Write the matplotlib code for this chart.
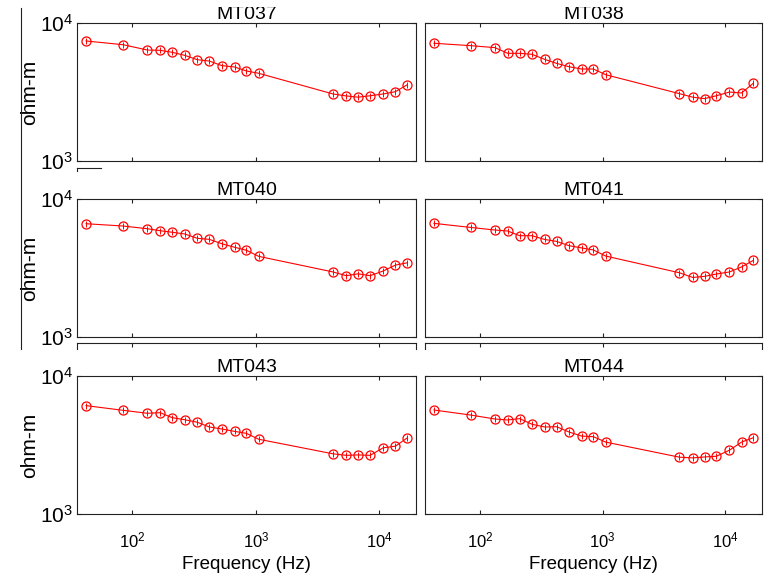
import matplotlib
matplotlib.use('Agg')
import matplotlib.pyplot as plt
from matplotlib.lines import Line2D
from matplotlib.patches import Rectangle
from matplotlib.ticker import FixedLocator, FixedFormatter, NullLocator

plt.rcParams['font.family'] = ['Liberation Sans', 'DejaVu Sans']
plt.rcParams['mathtext.fontset'] = 'custom'
plt.rcParams['mathtext.rm'] = 'Liberation Sans'
plt.rcParams['mathtext.it'] = 'Liberation Sans:italic'
plt.rcParams['mathtext.bf'] = 'Liberation Sans:bold'

# ---------------- data ----------------
freq = [42, 84, 132, 168, 210, 265, 336, 420, 530, 672, 840, 1056,
        4224, 5420, 6760, 8448, 10800, 13560, 16900]

stations = ['MT037', 'MT038', 'MT040', 'MT041', 'MT043', 'MT044']

rho_MT037 = [7410, 6960, 6370, 6340, 6130, 5830, 5420, 5300, 4910, 4800, 4490, 4320,
             3060, 2960, 2900, 2970, 3060, 3180, 3570]
rho_MT038 = [7130, 6850, 6630, 6030, 6030, 5930, 5450, 5100, 4820, 4640, 4640, 4220,
             3075, 2900, 2830, 2970, 3160, 3110, 3660]
rho_MT040 = [6620, 6370, 6090, 5890, 5740, 5580, 5190, 5100, 4740, 4470, 4250, 3840,
             2960, 2780, 2870, 2780, 3010, 3320, 3450]
rho_MT041 = [6660, 6220, 5960, 5860, 5420, 5420, 5090, 4930, 4590, 4420, 4270, 3860,
             2920, 2700, 2750, 2860, 2960, 3220, 3590]
rho_MT043 = [6100, 5640, 5370, 5420, 4990, 4820, 4620, 4270, 4130, 3970, 3840, 3480,
             2730, 2660, 2680, 2660, 3020, 3100, 3560]
rho_MT044 = [5670, 5210, 4880, 4800, 4910, 4470, 4270, 4290, 3930, 3670, 3630, 3320,
             2580, 2550, 2590, 2620, 2900, 3320, 3570]

rho_all = [rho_MT037, rho_MT038, rho_MT040, rho_MT041, rho_MT043, rho_MT044]

x_ticks = [1e2, 1e3, 1e4]
x_tick_labels = [r'$10^{2}$', r'$10^{3}$', r'$10^{4}$']
y_ticks = [1e3, 1e4]
y_tick_labels = [r'$10^{3}$', r'$10^{4}$']
x_limits = (35.5, 19900)
y_limits = (1e3, 1e4)
y_label = 'ohm-m'
x_label = 'Frequency (Hz)'

# ---------------- layout ----------------
W, H = 769, 578
fig = plt.figure(figsize=(W / 100, H / 100), dpi=100)


def px_rect(x0, y0, x1, y1):
    return [x0 / W, 1 - y1 / H, (x1 - x0) / W, (y1 - y0) / H]


col_x = [(77, 416), (425, 762)]
row_y = [(23, 161), (199, 337), (376, 514)]


def style_log_axes(ax):
    ax.set_xscale('log')
    ax.set_yscale('log')
    ax.set_xlim(*x_limits)
    ax.set_ylim(*y_limits)
    ax.xaxis.set_major_locator(FixedLocator(x_ticks))
    ax.xaxis.set_minor_locator(NullLocator())
    ax.yaxis.set_major_locator(FixedLocator(y_ticks))
    ax.yaxis.set_minor_locator(NullLocator())
    for sp in ax.spines.values():
        sp.set_linewidth(0.8)
        sp.set_color('#222222')


for i, (name, rho) in enumerate(zip(stations, rho_all)):
    r, c = divmod(i, 2)
    x0, x1 = col_x[c]
    y0, y1 = row_y[r]
    ax = fig.add_axes(px_rect(x0, y0, x1, y1))
    style_log_axes(ax)
    ax.plot(freq, rho, color='red', lw=0.8, marker='o', ms=6.5,
            mfc='none', mec='red', mew=0.9)
    ax.plot(freq, rho, ls='none', marker='|', ms=4, mec='red', mew=0.7)
    ax.tick_params(axis='both', which='major', direction='in', length=3,
                   width=0.8, top=True, right=True, color='#222222')
    ax.tick_params(axis='x', labelsize=12, pad=12)
    ax.tick_params(axis='y', labelsize=15, pad=3)
    if r == 2:
        ax.xaxis.set_major_formatter(FixedFormatter(x_tick_labels))
        ax.set_xlabel(x_label, fontsize=13.5, labelpad=4)
    else:
        ax.xaxis.set_major_formatter(FixedFormatter(['', '', '']))
    if c == 0:
        ax.yaxis.set_major_formatter(FixedFormatter(y_tick_labels))
        ax.set_ylabel(y_label, fontsize=15)
        ax.yaxis.set_label_coords((39 - x0) / (x1 - x0), 0.5)
    else:
        ax.yaxis.set_major_formatter(FixedFormatter(['', '']))
    ax.set_title(name, fontsize=14, pad=3)

# partial frames peeking out below the middle row
for (x0, x1) in col_x:
    fa = fig.add_axes(px_rect(x0, 343, x1, 349))
    fa.set_xscale('log')
    fa.set_xlim(*x_limits)
    fa.patch.set_alpha(0)
    fa.spines['bottom'].set_visible(False)
    for s in ['top', 'left', 'right']:
        fa.spines[s].set_linewidth(0.8)
        fa.spines[s].set_color('#222222')
    fa.xaxis.set_major_locator(FixedLocator(x_ticks))
    fa.xaxis.set_minor_locator(NullLocator())
    fa.set_yticks([])
    fa.tick_params(axis='x', direction='in', length=3, width=0.8, top=True,
                   bottom=False, labelbottom=False, color='#222222')

# stray figure lines
def fline(xs, ys, **kw):
    fig.add_artist(Line2D([x / W for x in xs], [1 - y / H for y in ys],
                          transform=fig.transFigure, color='#222222', lw=0.8, **kw))

fline([20.5, 20.5], [8, 349])
fline([77, 101], [167.5, 167.5])
fline([77, 77], [167.5, 171])

# top edge crops the upper titles slightly
fig.add_artist(Rectangle((150 / W, 1 - 7 / H), 600 / W, 7 / H,
                         transform=fig.transFigure, facecolor='white',
                         edgecolor='none', zorder=10))

fig.savefig('out.png', dpi=100)
